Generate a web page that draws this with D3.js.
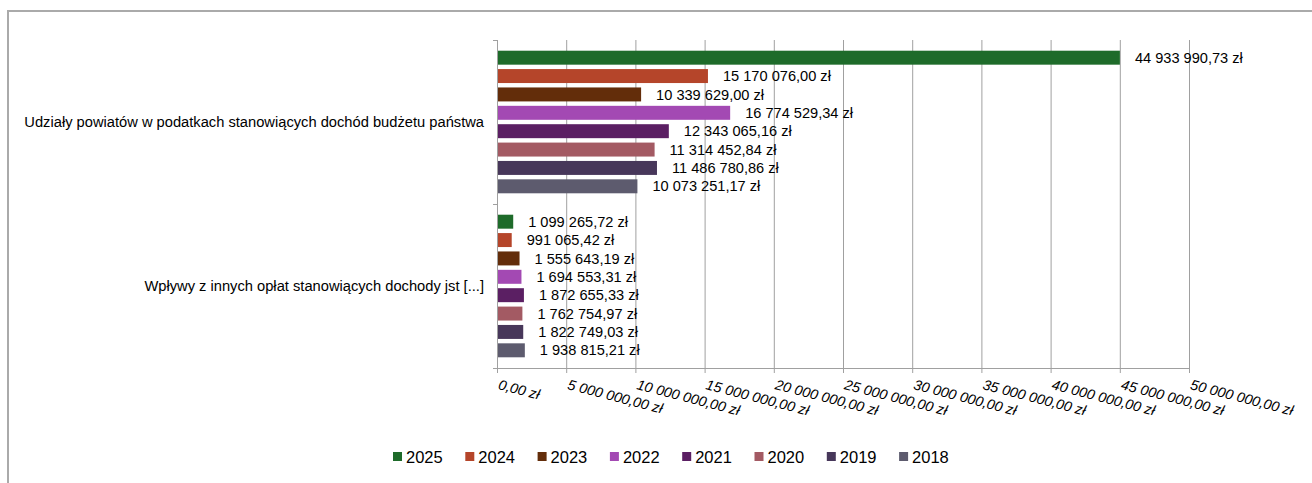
<!DOCTYPE html>
<html><head><meta charset="utf-8">
<script src="https://cdn.jsdelivr.net/npm/d3@7/dist/d3.min.js"></script>
<style>body{margin:0;background:#fff}svg{display:block;font-family:"Liberation Sans",Arial,sans-serif}</style>
</head><body><svg id="c" width="1312" height="483"></svg>
<script>
const categories = ["Udziały powiatów w podatkach stanowiących dochód budżetu państwa", "Wpływy z innych opłat stanowiących dochody jst [...]"];
const years = ["2025","2024","2023","2022","2021","2020","2019","2018"];
const colors = ["#1e6b2a","#b5452a","#632d0a","#a349b3","#5b1f63","#a35a63","#47375a","#5d5b6e"];
const values2025 = [44933990.73, 1099265.72];
const values2024 = [15170076.00, 991065.42];
const values2023 = [10339629.00, 1555643.19];
const values2022 = [16774529.34, 1694553.31];
const values2021 = [12343065.16, 1872655.33];
const values2020 = [11314452.84, 1762754.97];
const values2019 = [11486780.86, 1822749.03];
const values2018 = [10073251.17, 1938815.21];
const seriesValues = [values2025, values2024, values2023, values2022, values2021, values2020, values2019, values2018];
const xTicks = [0,5e6,10e6,15e6,20e6,25e6,30e6,35e6,40e6,45e6,50e6];

function fmt(v){
  const parts = v.toFixed(2).split(".");
  const int = parts[0].replace(/\B(?=(\d{3})+(?!\d))/g, " ");
  return int + "," + parts[1] + " zł";
}

(function(){
const svg = d3.select("#c");
// outer frame
svg.append("path").attr("d","M8,1000 L8,11 L1400,11").attr("fill","none").attr("stroke","#aaa").attr("stroke-width",2);

const pL = 497, pR = 1189, pT = 40, pB = 368;
const x = d3.scaleLinear().domain([0,50e6]).range([pL,pR]);
const y = d3.scaleBand().domain(categories).range([pT,pB]);
const yi = d3.scaleBand().domain(years).range([8.5, y.bandwidth()-8.5]).paddingInner(0.24).paddingOuter(0.12);

// gridlines
svg.append("g").selectAll("line").data(xTicks).join("line")
  .attr("x1",d=>x(d)+0.5).attr("x2",d=>x(d)+0.5).attr("y1",pT).attr("y2",pB+5)
  .attr("stroke","#a0a0a0").attr("stroke-width",1);
// x axis line
svg.append("line").attr("x1",pL-4).attr("x2",pR+0.5).attr("y1",pB+0.5).attr("y2",pB+0.5).attr("stroke","#a0a0a0");
// y axis ticks at category boundaries
svg.append("g").selectAll("line").data([pT, pT+y.bandwidth(), pB]).join("line")
  .attr("x1",pL-4).attr("x2",pL).attr("y1",d=>d+0.5).attr("y2",d=>d+0.5).attr("stroke","#a0a0a0");

// x tick labels
svg.append("g").selectAll("text").data(xTicks).join("text")
  .attr("transform",d=>`translate(${x(d)+0.5},${pB+21}) rotate(14.5)`)
  .attr("font-size",14.3).attr("font-style","italic").attr("fill","#000")
  .text(fmt);

// category labels
svg.append("g").selectAll("text").data(categories).join("text")
  .attr("x",484).attr("y",d=>y(d)+y.bandwidth()/2).attr("dy","0.35em").attr("text-anchor","end")
  .attr("font-size",14.7).attr("fill","#000").text(d=>d);

// bars
years.forEach((yr,i)=>{
  const g = svg.append("g");
  g.selectAll("rect").data(categories).join("rect")
    .attr("x",x(0)+1).attr("y",c=>y(c)+yi(yr))
    .attr("width",(c,j)=>x(seriesValues[i][j])-x(0))
    .attr("height",yi.bandwidth())
    .attr("fill",colors[i]);
  g.selectAll("text").data(categories).join("text")
    .attr("x",(c,j)=>x(seriesValues[i][j])+16)
    .attr("y",c=>y(c)+yi(yr)+yi.bandwidth()/2).attr("dy","0.35em")
    .attr("font-size",14.6).attr("fill","#000")
    .text((c,j)=>fmt(seriesValues[i][j]));
});

// legend
const lg = svg.append("g");
years.forEach((yr,i)=>{
  const lx = 393 + i*72.3;
  lg.append("rect").attr("x",lx).attr("y",452).attr("width",9).attr("height",9).attr("fill",colors[i]);
  lg.append("text").attr("x",lx+13).attr("y",457).attr("dy","0.35em").attr("font-size",16.5).attr("fill","#000").text(yr);
});
})();
</script></body></html>
